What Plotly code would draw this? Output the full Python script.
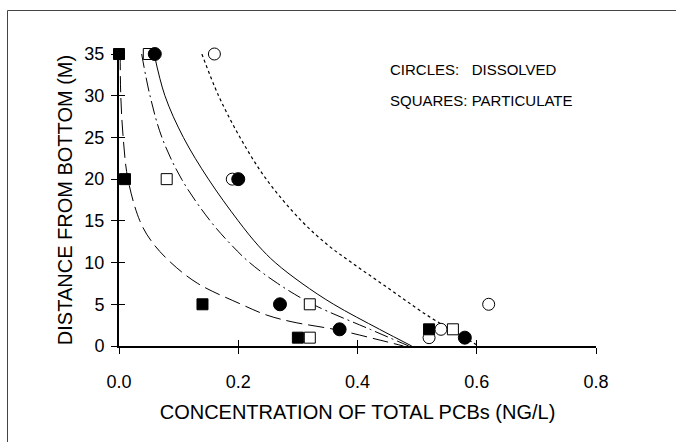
import plotly.graph_objects as go

# ---- data ----
sq_filled_x = [0.0, 0.01, 0.14, 0.30, 0.52]
sq_filled_y = [35, 20, 5, 1, 2]
sq_open_x = [0.05, 0.08, 0.32, 0.32, 0.56]
sq_open_y = [35, 20, 5, 1, 2]
ci_filled_x = [0.06, 0.20, 0.27, 0.37, 0.58]
ci_filled_y = [35, 20, 5, 2, 1]
ci_open_x = [0.16, 0.19, 0.62, 0.54, 0.52]
ci_open_y = [35, 20, 5, 2, 1]

dotted_y = [35, 30, 25, 20, 15, 12, 10, 8, 6, 4, 2, 1, 0]
dotted_x = [0.139, 0.167, 0.203, 0.247, 0.306, 0.352, 0.39, 0.43, 0.47, 0.51, 0.555, 0.58, 0.603]
solid_y = [35, 30, 25, 20, 15, 12, 10, 7.5, 5, 2, 0]
solid_x = [0.059, 0.077, 0.108, 0.150, 0.200, 0.234, 0.262, 0.307, 0.360, 0.437, 0.491]
dashdot_y = [35, 30, 25, 20, 15, 12, 10, 7.5, 5, 2, 0]
dashdot_x = [0.038, 0.052, 0.072, 0.105, 0.153, 0.190, 0.219, 0.266, 0.325, 0.421, 0.486]
longdash_y = [35, 30, 25, 20, 15, 12.5, 10, 7.5, 5, 3.7, 2.9, 1.9, 0.7, 0]
longdash_x = [0.002, 0.003, 0.007, 0.015, 0.035, 0.055, 0.087, 0.132, 0.205, 0.248, 0.29, 0.368, 0.438, 0.477]

x_ticks = [0.0, 0.2, 0.4, 0.6, 0.8]
x_ticklabels = ["0.0", "0.2", "0.4", "0.6", "0.8"]
y_ticks = [0, 5, 10, 15, 20, 25, 30, 35]

note_lines = ["CIRCLES:   DISSOLVED", "SQUARES: PARTICULATE"]
note_y = [33.1, 29.4]

FONT = "Liberation Sans, Arial, sans-serif"
W, H = 676, 442
ML, MR, MT, MB = 119, 80, 54, 96

fig = go.Figure()

def curve(xs, ys, dash, width=1):
    fig.add_trace(go.Scatter(x=xs, y=ys, mode="lines", line=dict(color="black", width=width, dash=dash, shape="spline", smoothing=1.0),
                             cliponaxis=False, showlegend=False, hoverinfo="skip"))

curve(dotted_x, dotted_y, "dot", 1.2)
curve(solid_x, solid_y, "solid", 1)
curve(dashdot_x, dashdot_y, "14px,4px,2px,4px", 1)
curve(longdash_x, longdash_y, "16px,6px", 1)

def pts(xs, ys, symbol, size, fill):
    fig.add_trace(go.Scatter(x=xs, y=ys, mode="markers", cliponaxis=False, showlegend=False,
                             marker=dict(symbol=symbol, size=size, color=fill,
                                         line=dict(color="black", width=1))))

pts(ci_open_x, ci_open_y, "circle", 12, "white")
pts(sq_open_x, sq_open_y, "square", 11, "white")
pts(sq_filled_x, sq_filled_y, "square", 11, "black")
pts(ci_filled_x, ci_filled_y, "circle", 13, "black")

for t, yy in zip(note_lines, note_y):
    fig.add_annotation(x=0.451, y=yy, xref="x", yref="y", text=t, showarrow=False, xanchor="left",
                       yanchor="middle", font=dict(family=FONT, size=15, color="black"))

# invisible trace for inside-tick overlay axes
fig.add_trace(go.Scatter(x=[0.4], y=[10], xaxis="x2", yaxis="y2", mode="markers",
                         marker=dict(opacity=0), showlegend=False, hoverinfo="skip"))

axis_common = dict(showgrid=False, zeroline=False, ticklen=6, tickwidth=1.2, tickcolor="black")
fig.update_layout(
    width=W, height=H, margin=dict(l=ML, r=MR, t=MT, b=MB),
    paper_bgcolor="white", plot_bgcolor="white",
    font=dict(family=FONT, color="black"),
    xaxis=dict(range=[0, 0.8], tickvals=x_ticks, ticktext=x_ticklabels, ticks="outside",
               showline=True, linecolor="black", linewidth=2,
               tickfont=dict(size=18), ticklabelstandoff=12,
               title=dict(text="CONCENTRATION OF TOTAL PCBs (NG/L)", font=dict(size=20), standoff=14),
               **axis_common),
    yaxis=dict(range=[0, 35], tickvals=y_ticks, ticks="outside",
               showline=True, linecolor="black", linewidth=2,
               tickfont=dict(size=18), ticklabelstandoff=3,
               title=dict(text="DISTANCE FROM BOTTOM (M)", font=dict(size=20), standoff=6),
               **axis_common),
    xaxis2=dict(range=[0, 0.8], overlaying="x", anchor="y2", tickvals=x_ticks, ticks="inside",
                showticklabels=False, showline=False, **axis_common),
    yaxis2=dict(range=[0, 35], overlaying="y", anchor="x2", tickvals=y_ticks, ticks="inside",
                showticklabels=False, showline=False, **axis_common),
)

# outer frame (left and top edges visible in the reference)
px2x = lambda p: (p - ML) / (W - ML - MR)
py2y = lambda p: 1 - (p - MT) / (H - MT - MB)
fig.add_shape(type="rect", xref="paper", yref="paper", x0=px2x(7.5), x1=px2x(690), y0=py2y(460), y1=py2y(10.5),
              line=dict(color="#444444", width=1), layer="below")

fig.write_html("out.html", config={"displayModeBar": False},
               post_script="document.body.style.margin='0';document.body.style.overflow='hidden';")
